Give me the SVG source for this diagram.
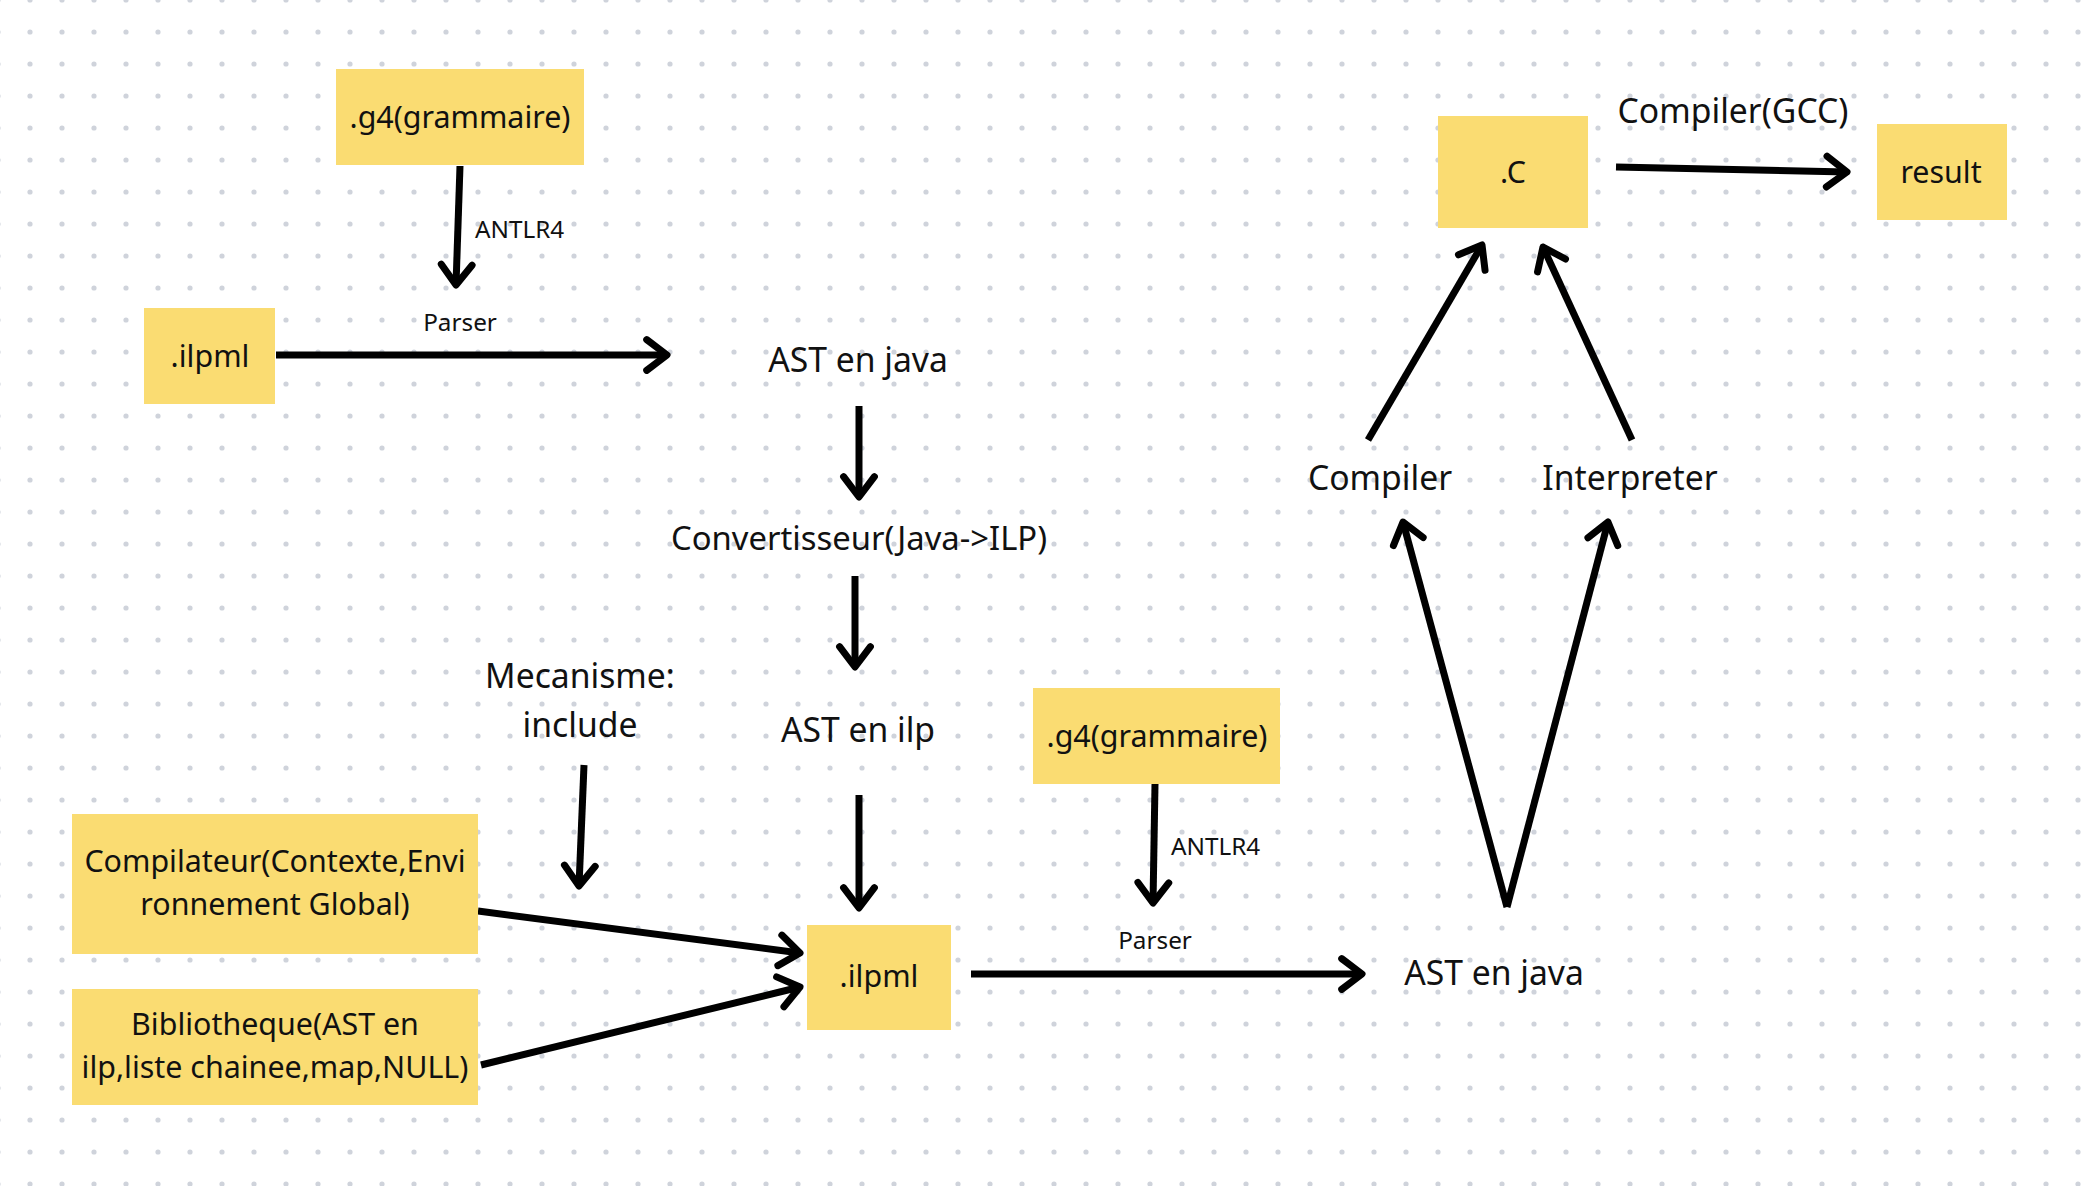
<svg xmlns="http://www.w3.org/2000/svg" width="2090" height="1186" viewBox="0 0 2090 1186">
<defs>
<pattern id="dots" x="14" y="16" width="32" height="32" patternUnits="userSpaceOnUse">
<circle cx="16" cy="16" r="2.6" fill="#cfd3db"/>
</pattern>
<marker id="ah" viewBox="-5 -4 7 8" refX="0" refY="0" markerWidth="7" markerHeight="8" orient="auto" markerUnits="strokeWidth" overflow="visible">
<path d="M-2.9,-2.2 L0,0 L-2.9,2.2" fill="none" stroke="#000" stroke-width="1" stroke-linecap="round" stroke-linejoin="round"/>
</marker>
<style>
.box{fill:#fadc72}
.t{font-family:"Noto Sans","Open Sans","DejaVu Sans",sans-serif;fill:#111;text-anchor:middle}
.b{font-size:30.4px}
.l{font-size:33.7px}
.s{font-size:24.3px}
.c{fill:none;stroke:#000;stroke-width:7;marker-end:url(#ah)}
</style>
</defs>
<rect width="2090" height="1186" fill="#ffffff"/>
<rect width="2090" height="1186" fill="url(#dots)"/>

<g id="connectors">
<path class="c" d="M460,166 L456,285"/>
<path class="c" d="M276,355 L667,355"/>
<path class="c" d="M859,406 L859,497"/>
<path class="c" d="M855,576 L855,667"/>
<path class="c" d="M584,765 L579,886"/>
<path class="c" d="M859,795 L859,908"/>
<path class="c" d="M478,911 L800,953"/>
<path class="c" d="M481,1065 L800,987"/>
<path class="c" d="M1155,784 L1153,903"/>
<path class="c" d="M971,974 L1362,974"/>
<path class="c" d="M1507,907 L1403,522"/>
<path class="c" d="M1507,907 L1608,522"/>
<path class="c" d="M1368,440 L1482,245"/>
<path class="c" d="M1632,440 L1543,247"/>
<path class="c" d="M1616,167 L1847,172"/>
</g>

<g id="edge-labels">
<text class="t s" x="475" y="238" style="text-anchor:start">ANTLR4</text>
<text class="t s" x="460" y="331">Parser</text>
<text class="t s" x="1171" y="855" style="text-anchor:start">ANTLR4</text>
<text class="t s" x="1155" y="949">Parser</text>
<text class="t l" x="1733" y="123">Compiler(GCC)</text>
</g>

<g id="g4-top">
<rect class="box" x="336" y="69" width="248" height="96"/>
<text class="t b" x="460" y="128">.g4(grammaire)</text>
</g>
<g id="ilpml-top">
<rect class="box" x="144" y="308" width="131" height="96"/>
<text class="t b" x="210" y="367">.ilpml</text>
</g>
<g id="ast-java-top">
<text class="t l" x="858" y="372">AST en java</text>
</g>
<g id="convertisseur">
<text class="t l" x="859" y="550" style="font-size:32.8px">Convertisseur(Java-&gt;ILP)</text>
</g>
<g id="ast-ilp">
<text class="t l" x="858" y="742">AST en ilp</text>
</g>
<g id="mecanisme">
<text class="t l" x="580" y="688">Mecanisme:</text>
<text class="t l" x="580" y="737">include</text>
</g>
<g id="compilateur">
<rect class="box" x="72" y="814" width="406" height="140"/>
<text class="t b" x="275" y="872">Compilateur(Contexte,Envi</text>
<text class="t b" x="275" y="915">ronnement Global)</text>
</g>
<g id="bibliotheque">
<rect class="box" x="72" y="989" width="406" height="116"/>
<text class="t b" x="275" y="1035">Bibliotheque(AST en</text>
<text class="t b" x="275" y="1078">ilp,liste chainee,map,NULL)</text>
</g>
<g id="ilpml-bottom">
<rect class="box" x="807" y="925" width="144" height="105"/>
<text class="t b" x="879" y="987">.ilpml</text>
</g>
<g id="g4-bottom">
<rect class="box" x="1033" y="688" width="247" height="96"/>
<text class="t b" x="1157" y="747">.g4(grammaire)</text>
</g>
<g id="ast-java-bottom">
<text class="t l" x="1494" y="985">AST en java</text>
</g>
<g id="compiler">
<text class="t l" x="1380" y="490">Compiler</text>
</g>
<g id="interpreter">
<text class="t l" x="1630" y="490">Interpreter</text>
</g>
<g id="c-file">
<rect class="box" x="1438" y="116" width="150" height="112"/>
<text class="t b" x="1513" y="183">.C</text>
</g>
<g id="result">
<rect class="box" x="1877" y="124" width="130" height="96"/>
<text class="t b" x="1941" y="183">result</text>
</g>
</svg>
